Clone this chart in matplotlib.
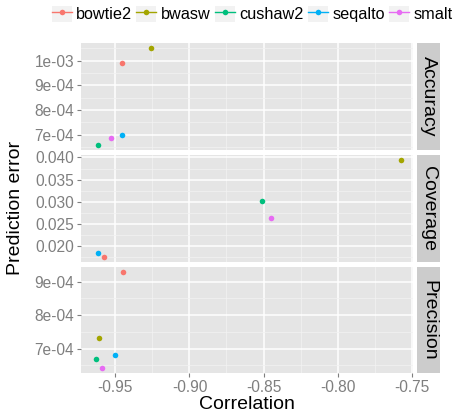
import numpy as np
import matplotlib
matplotlib.use("Agg")
import matplotlib.pyplot as plt
from matplotlib.lines import Line2D
from matplotlib.patches import Rectangle
from matplotlib.legend_handler import HandlerLine2D
from matplotlib.ticker import FixedLocator, FuncFormatter

# data
methods = ["bowtie2", "bwasw", "cushaw2", "seqalto", "smalt"]
colors = ["#F8766D", "#A3A500", "#00BF7D", "#00B0F6", "#E76BF3"]
facets = ["Accuracy", "Coverage", "Precision"]

acc_corr = [-0.9457, -0.9259, -0.9619, -0.9457, -0.9527]
acc_err = [9.907e-4, 1.0512e-3, 6.585e-4, 6.99e-4, 6.88e-4]

cov_corr = [-0.9578, -0.7570, -0.8509, -0.9619, -0.8448]
cov_err = [0.01752, 0.03946, 0.0301, 0.01836, 0.02642]

pre_corr = [-0.9448, -0.9610, -0.9628, -0.9500, -0.9588]
pre_err = [9.30e-4, 7.31e-4, 6.70e-4, 6.80e-4, 6.41e-4]

x_ticks = [-0.95, -0.90, -0.85, -0.80, -0.75]
y_ticks = [
    [7e-4, 8e-4, 9e-4, 1e-3],
    [0.020, 0.025, 0.030, 0.035, 0.040],
    [7e-4, 8e-4, 9e-4],
]
y_fmt = ["{:.0e}", "{:.3f}", "{:.0e}"]

plt.rcParams["font.family"] = ["Liberation Sans", "DejaVu Sans"]
plt.rcParams["axes.unicode_minus"] = False

W, H = 453, 419
fig = plt.figure(figsize=(W / 100, H / 100), dpi=100)

PANEL_BG = "#E5E5E5"
STRIP_BG = "#CCCCCC"
GREY50 = "#7F7F7F"

# pixel boxes: (top, bottom)
rows = [(43, 150), (155, 261.7), (267, 373)]
px_left, px_right = 81, 412.7
strip_left, strip_right = 417, 440

series = [(acc_corr, acc_err), (cov_corr, cov_err), (pre_corr, pre_err)]


def minors(ticks):
    step = ticks[1] - ticks[0]
    return [t - step / 2 for t in ticks] + [ticks[-1] + step / 2]


for i, (top, bot) in enumerate(rows):
    ax = fig.add_axes([px_left / W, 1 - bot / H, (px_right - px_left) / W, (bot - top) / H])
    ax.set_facecolor(PANEL_BG)
    for s in ax.spines.values():
        s.set_visible(False)

    xs, ys = series[i]
    for j in range(len(methods)):
        ax.scatter(xs[j], ys[j], s=16, color=colors[j], zorder=3, linewidths=0)

    ax.set_xlim(-0.9732, -0.7493)
    ax.margins(y=0.05)
    ax.autoscale_view()

    ax.xaxis.set_major_locator(FixedLocator(x_ticks))
    ax.xaxis.set_minor_locator(FixedLocator(minors(x_ticks)))
    ax.yaxis.set_major_locator(FixedLocator(y_ticks[i]))
    ax.yaxis.set_minor_locator(FixedLocator(minors(y_ticks[i])))
    fmt = y_fmt[i]
    ax.yaxis.set_major_formatter(FuncFormatter(lambda v, p, f=fmt: f.format(v)))
    ax.xaxis.set_major_formatter(FuncFormatter(lambda v, p: f"{v:.2f}"))

    ax.grid(True, which="major", color="white", lw=1.1)
    ax.grid(True, which="minor", color="#F2F2F2", lw=0.55)
    ax.set_axisbelow(True)

    ax.tick_params(which="minor", length=0)
    ax.tick_params(which="major", length=3, width=0.8, color=GREY50,
                   labelcolor=GREY50, labelsize=11.2, pad=2)
    if i < 2:
        ax.tick_params(axis="x", which="major", length=0, labelbottom=False)
    else:
        ax.set_xlabel("Correlation", fontsize=14, labelpad=1)

    # facet strip
    sax = fig.add_axes([strip_left / W, 1 - bot / H, (strip_right - strip_left) / W, (bot - top) / H])
    sax.set_facecolor(STRIP_BG)
    sax.set_xticks([])
    sax.set_yticks([])
    for s in sax.spines.values():
        s.set_visible(False)
    sax.text(0.5, 0.5, facets[i], rotation=-90, ha="center", va="center",
             fontsize=14, transform=sax.transAxes)

fig.text(15 / W, 1 - 208 / H, "Prediction error", rotation=90, ha="center",
         va="center", fontsize=14)


class KeyHandler(HandlerLine2D):
    def create_artists(self, legend, orig_handle, xdescent, ydescent,
                       width, height, fontsize, trans):
        bg = Rectangle((-xdescent, -ydescent), width, height,
                       facecolor="#F2F2F2", edgecolor="none", transform=trans)
        arts = super().create_artists(legend, orig_handle, xdescent, ydescent,
                                      width, height, fontsize, trans)
        return [bg] + list(arts)


handles = [Line2D([], [], color=c, lw=1, marker="o", markersize=4,
                  markeredgewidth=0) for c in colors]
fig.legend(handles, methods, loc="center", bbox_to_anchor=(252 / W, 1 - 14 / H),
           ncol=5, frameon=False, fontsize=11.7, handlelength=1.23,
           handleheight=1.23, handletextpad=0.28, columnspacing=0.25,
           borderpad=0, numpoints=1,
           handler_map={Line2D: KeyHandler(numpoints=1)})

fig.savefig("out.png", dpi=100)
